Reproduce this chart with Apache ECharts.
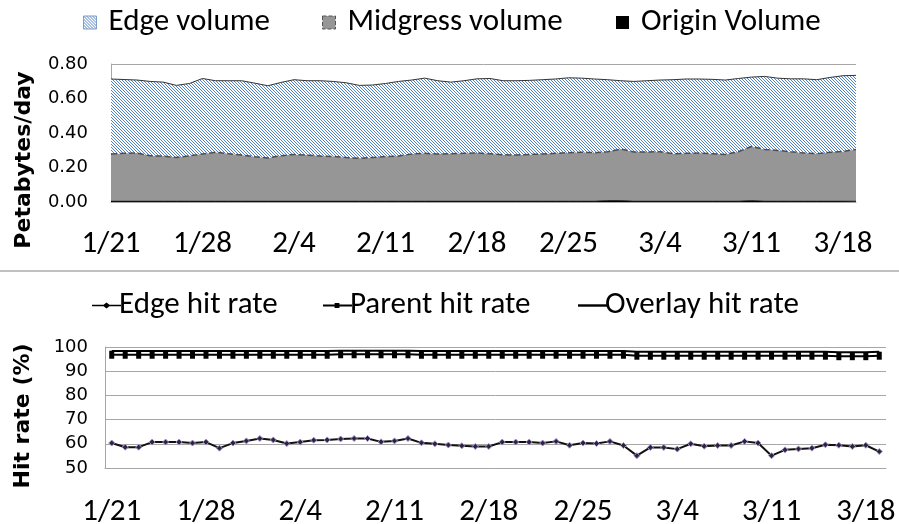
<!DOCTYPE html>
<html>
<head>
<meta charset="utf-8">
<script src="https://cdn.jsdelivr.net/npm/echarts@6/dist/echarts.min.js"></script>
<style>
html, body { margin: 0; padding: 0; background: #fff; }
#main { width: 899px; height: 524px; }
</style>
</head>
<body>
<div id="main"></div>
<script>
var dates = ['1/21','1/22','1/23','1/24','1/25','1/26','1/27','1/28','1/29','1/30','1/31',
    '2/1','2/2','2/3','2/4','2/5','2/6','2/7','2/8','2/9','2/10','2/11','2/12','2/13','2/14',
    '2/15','2/16','2/17','2/18','2/19','2/20','2/21','2/22','2/23','2/24','2/25','2/26','2/27','2/28',
    '3/1','3/2','3/3','3/4','3/5','3/6','3/7','3/8','3/9','3/10','3/11','3/12','3/13','3/14',
    '3/15','3/16','3/17','3/18','3/19'];

// petabytes/day
var edgeVolume = [0.435,0.428,0.423,0.431,0.429,0.418,0.419,0.438,0.415,0.423,
    0.431,0.427,0.419,0.425,0.433,0.431,0.437,0.435,0.433,0.423,
    0.420,0.423,0.433,0.429,0.436,0.425,0.415,0.421,0.430,0.436,
    0.429,0.431,0.429,0.431,0.431,0.434,0.430,0.427,0.418,0.396,
    0.409,0.413,0.416,0.429,0.431,0.429,0.431,0.431,0.425,0.402,
    0.423,0.419,0.423,0.430,0.429,0.434,0.439,0.429];
var midgressVolume = [0.274,0.278,0.280,0.264,0.262,0.254,0.264,0.274,0.284,0.276,
    0.268,0.258,0.251,0.264,0.272,0.268,0.262,0.260,0.254,0.249,
    0.254,0.260,0.262,0.274,0.278,0.274,0.276,0.278,0.280,0.276,
    0.270,0.268,0.272,0.274,0.278,0.282,0.284,0.282,0.284,0.300,
    0.286,0.286,0.287,0.276,0.278,0.280,0.276,0.272,0.287,0.315,
    0.301,0.295,0.287,0.280,0.276,0.284,0.289,0.301];
var originVolume = [0.004,0.004,0.004,0.004,0.004,0.004,0.004,0.004,0.004,0.004,
    0.004,0.004,0.004,0.004,0.004,0.004,0.004,0.004,0.004,0.004,
    0.004,0.004,0.004,0.004,0.004,0.004,0.004,0.004,0.004,0.004,
    0.004,0.004,0.004,0.004,0.004,0.004,0.004,0.004,0.007,0.007,
    0.004,0.004,0.004,0.004,0.004,0.004,0.004,0.004,0.004,0.007,
    0.004,0.004,0.004,0.004,0.004,0.004,0.004,0.004];

// percent
var edgeHitRate = [60.3,58.6,58.6,60.7,60.7,60.7,60.3,60.7,58.2,60.3,
    61.2,62.2,61.6,60.1,60.7,61.5,61.6,62.0,62.2,62.2,
    60.8,61.2,62.2,60.4,60.0,59.5,59.2,58.9,58.9,60.7,
    60.7,60.7,60.3,61.0,59.4,60.3,60.1,61.0,59.3,55.1,
    58.5,58.5,57.8,60.0,59.0,59.3,59.3,61.0,60.3,55.1,
    57.5,57.9,58.2,59.6,59.4,58.9,59.4,56.8];
var parentHitRate = [96.8,96.8,96.8,96.8,96.8,96.8,96.8,96.8,96.8,96.8,
    96.8,96.8,96.8,96.8,96.8,96.8,96.8,97.0,97.0,97.0,
    97.0,97.0,97.0,96.8,96.8,96.8,96.8,96.8,96.8,96.8,
    96.8,96.8,96.8,96.8,96.8,96.8,96.8,96.8,96.8,96.4,
    96.4,96.4,96.4,96.4,96.4,96.4,96.4,96.4,96.4,96.4,
    96.4,96.4,96.4,96.4,96.2,96.2,96.2,96.4];
var overlayHitRate = [98.3,98.3,98.3,98.3,98.3,98.3,98.3,98.3,98.3,98.3,
    98.3,98.3,98.3,98.3,98.3,98.3,98.3,98.5,98.5,98.5,
    98.5,98.5,98.5,98.3,98.3,98.3,98.3,98.3,98.3,98.3,
    98.3,98.3,98.3,98.3,98.3,98.3,98.3,98.3,98.3,98.0,
    98.0,98.0,98.0,98.0,98.0,98.0,98.0,98.0,98.0,98.0,
    98.0,98.0,98.0,98.0,97.8,97.8,97.8,98.0];

var volTicks = { min: 0, max: 0.8, interval: 0.2 };
var hitTicks = { min: 50, max: 100, interval: 10 };

var CAL = "'Carlito', 'Open Sans', sans-serif";
var VER = "'DejaVu Sans', sans-serif";

// blue diagonal hatch like the excel pattern fill
function hatchCanvas() {
    var s = 3;
    var c = document.createElement('canvas');
    c.width = s; c.height = s;
    var g = c.getContext('2d');
    g.fillStyle = '#ffffff';
    g.fillRect(0, 0, s, s);
    g.strokeStyle = '#4f84cc';
    g.lineWidth = 1;
    g.beginPath();
    [-s, 0, s].forEach(function (k) {
        g.moveTo(k, 0);
        g.lineTo(k + s, s);
    });
    g.stroke();
    return c;
}
var hatch = { image: hatchCanvas(), repeat: 'repeat' };

var chart = echarts.init(document.getElementById('main'));

var topLegend = function (name, left, style) {
    return {
        left: left, top: 2,
        itemWidth: 13, itemHeight: 13,
        icon: 'rect',
        textStyle: { fontFamily: CAL, fontSize: 31, color: '#000', padding: [0, 0, 0, 7] },
        data: [{ name: name, itemStyle: style }]
    };
};
// little line samples like the excel legend keys
var keyEdge = 'path://M0,2.2H12L15,0L18,2.2H30V3.8H18L15,6L12,3.8H0Z';
var keyParent = 'path://M0,2H12V0.5H17V2H30V4H17V5.5H12V4H0Z';
var keyOverlay = 'path://M0,0H30V2.5H0Z';
var botLegend = function (name, left, icon, h) {
    return {
        left: left, top: 285,
        itemWidth: 29, itemHeight: h,
        textStyle: { fontFamily: CAL, fontSize: 31, color: '#000', padding: [0, 0, 0, -7] },
        data: [{ name: name, icon: icon, itemStyle: { color: '#000', borderWidth: 0 } }]
    };
};

var gray = '#a6a6a6';

var option = {
    animation: false,
    backgroundColor: '#fff',
    legend: [
        topLegend('Edge volume', 78, { color: hatch, borderColor: '#7f9cc4', borderWidth: 1 }),
        topLegend('Midgress volume', 317, { color: '#969696', borderColor: '#555', borderWidth: 1, borderType: 'dashed' }),
        topLegend('Origin Volume', 611, { color: '#000' }),
        botLegend('Edge hit rate', 87, keyEdge, 6),
        botLegend('Parent hit rate', 318, keyParent, 6),
        botLegend('Overlay hit rate', 573, keyOverlay, 3)
    ],
    grid: [
        { left: 111, right: 43, top: 64, bottom: 322, outerBoundsMode: 'none' },
        { left: 105, right: 13, top: 347, bottom: 56, outerBoundsMode: 'none' }
    ],
    xAxis: [
        {
            type: 'category', gridIndex: 0, data: dates, boundaryGap: false,
            axisLine: { lineStyle: { color: gray } },
            axisTick: { show: false },
            axisLabel: { interval: 6, margin: 27, fontFamily: CAL, fontSize: 31, color: '#000' }
        },
        {
            type: 'category', gridIndex: 1, data: dates, boundaryGap: true,
            axisLine: { lineStyle: { color: gray } },
            axisTick: { show: false },
            axisLabel: { interval: 6, margin: 29, fontFamily: CAL, fontSize: 31, color: '#000' }
        }
    ],
    yAxis: [
        {
            type: 'value', gridIndex: 0,
            min: volTicks.min, max: volTicks.max, interval: volTicks.interval,
            axisLine: { show: true, lineStyle: { color: gray } },
            axisTick: { show: false },
            splitLine: { lineStyle: { color: gray } },
            axisLabel: {
                margin: 23, fontFamily: VER, fontSize: 18, color: '#000',
                formatter: function (v) { return v.toFixed(2); }
            }
        },
        {
            type: 'value', gridIndex: 1,
            min: hitTicks.min, max: hitTicks.max, interval: hitTicks.interval,
            axisLine: { show: true, lineStyle: { color: gray } },
            axisTick: { show: false },
            splitLine: { lineStyle: { color: gray } },
            axisLabel: { margin: 17, fontFamily: VER, fontSize: 18, color: '#000' }
        }
    ],
    graphic: [
        {
            type: 'text', x: 24, y: 160, rotation: Math.PI / 2,
            style: { text: 'Petabytes/day', font: 'bold 22px ' + VER, fill: '#000', textAlign: 'center', textVerticalAlign: 'middle' }
        },
        {
            type: 'text', x: 23, y: 416, rotation: Math.PI / 2,
            style: { text: 'Hit rate (%)', font: 'bold 22px ' + VER, fill: '#000', textAlign: 'center', textVerticalAlign: 'middle' }
        },
        {
            type: 'line', shape: { x1: 0, y1: 271, x2: 899, y2: 271 },
            style: { stroke: '#c0c0c0', lineWidth: 2 }
        }
    ],
    series: [
        {
            name: 'Origin Volume', type: 'line', stack: 'vol', xAxisIndex: 0, yAxisIndex: 0,
            symbol: 'none', data: originVolume,
            itemStyle: { color: '#000' },
            lineStyle: { color: '#000', width: 1 },
            areaStyle: { color: '#000', opacity: 1 }
        },
        {
            name: 'Midgress volume', type: 'line', stack: 'vol', xAxisIndex: 0, yAxisIndex: 0,
            symbol: 'none', data: midgressVolume,
            itemStyle: { color: '#969696' },
            lineStyle: { color: '#4d4d4d', width: 1.5, type: 'dashed' },
            areaStyle: { color: '#969696', opacity: 1 }
        },
        {
            name: 'Edge volume', type: 'line', stack: 'vol', xAxisIndex: 0, yAxisIndex: 0,
            symbol: 'none', data: edgeVolume,
            itemStyle: { color: '#5b8ed6' },
            lineStyle: { color: '#333', width: 1 },
            areaStyle: { color: hatch, opacity: 1 }
        },
        {
            name: 'Overlay hit rate', type: 'line', xAxisIndex: 1, yAxisIndex: 1,
            symbol: 'none', data: overlayHitRate,
            itemStyle: { color: '#000' },
            lineStyle: { color: '#000', width: 2 }
        },
        {
            name: 'Parent hit rate', type: 'line', xAxisIndex: 1, yAxisIndex: 1,
            symbol: 'rect', symbolSize: [5, 8], data: parentHitRate,
            itemStyle: { color: '#000' },
            lineStyle: { color: '#000', width: 2 }
        },
        {
            name: 'Edge hit rate', type: 'line', xAxisIndex: 1, yAxisIndex: 1,
            symbol: 'diamond', symbolSize: 6, data: edgeHitRate,
            itemStyle: { color: '#2e2240', borderColor: '#a294c8', borderWidth: 1 },
            lineStyle: { color: '#111', width: 2 }
        }
    ]
};
chart.setOption(option);
</script>
</body>
</html>
